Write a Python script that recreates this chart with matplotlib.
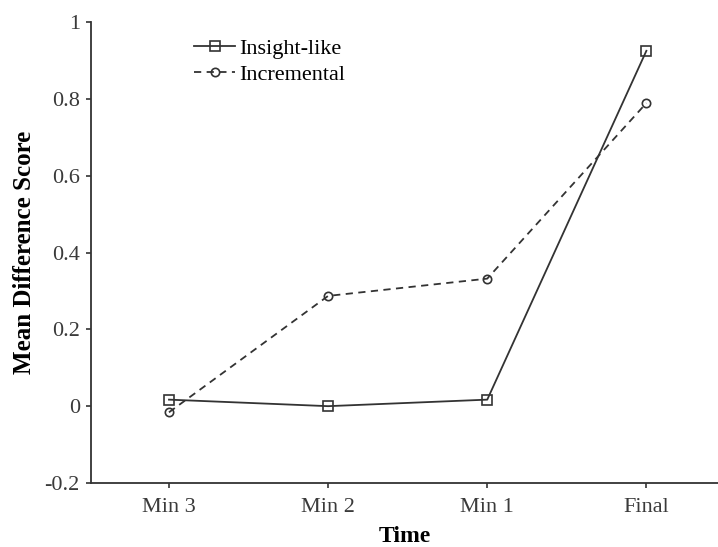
import matplotlib
matplotlib.use("Agg")
import matplotlib.pyplot as plt

times = ["Min 3", "Min 2", "Min 1", "Final"]
insight_like = [0.017, 0.0, 0.017, 0.925]
incremental = [-0.016, 0.287, 0.332, 0.789]
y_ticks = [-0.2, 0, 0.2, 0.4, 0.6, 0.8, 1]
y_tick_labels = ["-0.2", "0", "0.2", "0.4", "0.6", "0.8", "1"]

plt.rcParams["font.family"] = ["Liberation Serif", "DejaVu Serif"]
col = "#333333"

fig = plt.figure(figsize=(7.18, 5.47), dpi=100)
ax = fig.add_axes([91 / 718, 1 - 483 / 547, 1 - 91 / 718, (483 - 22) / 547])

x = list(range(len(times)))
ax.plot(x, insight_like, color=col, lw=1.3, marker="s", ms=6.5,
        mfc="none", mec=col, mew=1.2, label="Insight-like")
ax.plot(x, incremental, color=col, lw=1.3, ls=(0, (4, 3)), marker="o", ms=6,
        mfc="none", mec=col, mew=1.2, label="Incremental")

ax.set_xlim(-0.49, 3.45)
ax.set_ylim(-0.2, 1)
ax.set_xticks(x)
ax.set_xticklabels(times)
ax.set_yticks(y_ticks)
ax.set_yticklabels(y_tick_labels)
ax.tick_params(labelsize=16, labelcolor="#3a3a3a", colors=col, length=3.6, width=1.2)
ax.tick_params(axis="y", pad=4.5)
ax.tick_params(axis="x", pad=7)
for s in ["top", "right"]:
    ax.spines[s].set_visible(False)
for s in ["left", "bottom"]:
    ax.spines[s].set_color(col)
    ax.spines[s].set_linewidth(1.3)

ax.set_xlabel("Time", fontsize=17, fontweight="bold", labelpad=7)
ax.set_ylabel("Mean Difference Score", fontsize=18, fontweight="bold", labelpad=6)

ax.legend(loc="upper left", bbox_to_anchor=(194 / 718, 1 - 38 / 547),
          bbox_transform=fig.transFigure, frameon=False, fontsize=16,
          handlelength=1.85, handletextpad=0.2, labelspacing=0.25, borderpad=0,
          borderaxespad=0)

fig.savefig("out.png", dpi=100)
